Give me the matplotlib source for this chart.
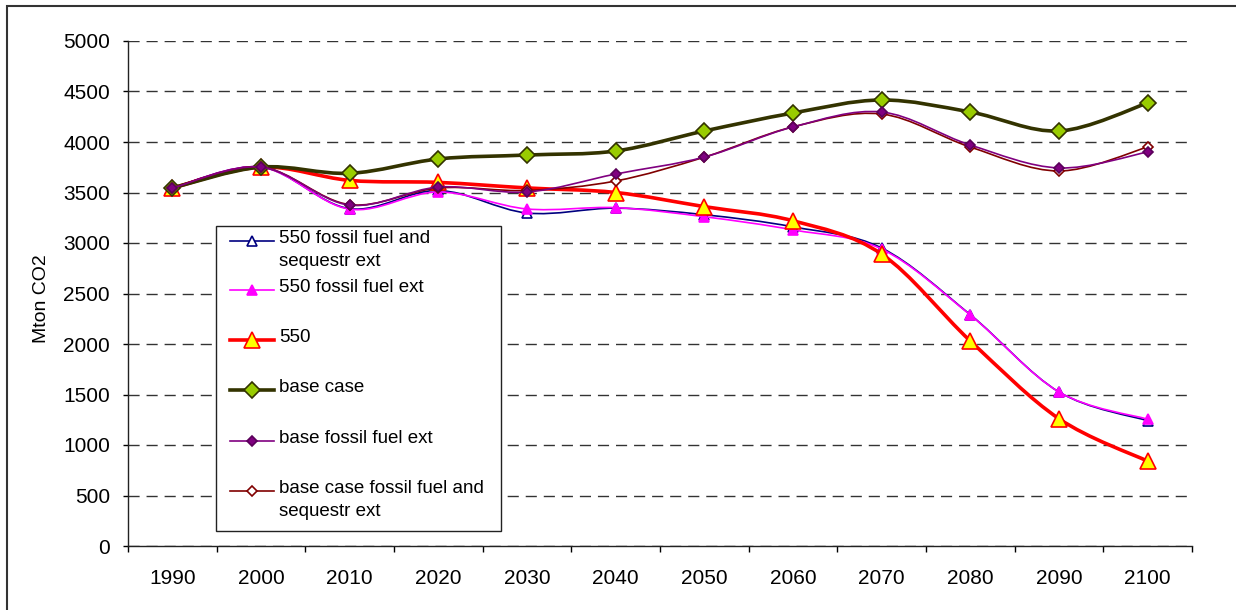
import matplotlib
matplotlib.use("Agg")
import matplotlib.pyplot as plt
import numpy as np
from matplotlib.path import Path
from matplotlib.patches import PathPatch, Rectangle
from matplotlib.lines import Line2D

plt.rcParams['font.family'] = ['Liberation Sans', 'DejaVu Sans']

# --- data (Mton CO2) ---
years = [1990, 2000, 2010, 2020, 2030, 2040, 2050, 2060, 2070, 2080, 2090, 2100]
ff_seq_550 = [3545, 3752, 3340, 3520, 3297, 3345, 3280, 3160, 2950, 2290, 1525, 1240]
ff_550 = [3545, 3752, 3335, 3505, 3337, 3350, 3260, 3130, 2940, 2287, 1525, 1255]
case_550 = [3545, 3752, 3620, 3600, 3545, 3500, 3360, 3220, 2890, 2030, 1260, 840]
base_case = [3545, 3752, 3690, 3832, 3871, 3911, 4109, 4287, 4416, 4297, 4109, 4386]
base_ff = [3545, 3752, 3375, 3554, 3505, 3683, 3851, 4149, 4297, 3970, 3743, 3901]
base_ff_seq = [3545, 3752, 3380, 3545, 3520, 3614, 3850, 4150, 4277, 3950, 3713, 3950]

labels = ["550 fossil fuel and\nsequestr ext", "550 fossil fuel ext", "550",
          "base case", "base fossil fuel ext", "base case fossil fuel and\nsequestr ext"]

W, H = 1236, 610
fig = plt.figure(figsize=(W / 100, H / 100), dpi=100)
ax = fig.add_axes([128 / W, 1 - 546 / H, (1192 - 128) / W, (546 - 41) / H])


def smooth_path(xs, ys):
    # excel-like smoothed line (bezier through the points)
    pts = list(zip(xs, ys))
    n = len(pts)
    verts = [pts[0]]
    codes = [Path.MOVETO]
    for i in range(n - 1):
        p0 = pts[max(i - 1, 0)]
        p1 = pts[i]
        p2 = pts[i + 1]
        p3 = pts[min(i + 2, n - 1)]
        c1 = (p1[0] + (p2[0] - p0[0]) / 6, p1[1] + (p2[1] - p0[1]) / 6)
        c2 = (p2[0] - (p3[0] - p1[0]) / 6, p2[1] - (p3[1] - p1[1]) / 6)
        verts += [c1, c2, p2]
        codes += [Path.CURVE4] * 3
    return Path(verts, codes)


# label, values, line color, lw, marker, ms, face, edge, zorder
styles = [
    (labels[0], ff_seq_550, '#000080', 1.2, '^', 6.5, 'white', '#000080', 3),
    (labels[1], ff_550, '#FF00FF', 1.2, '^', 6.5, '#FF00FF', '#FF00FF', 4),
    (labels[2], case_550, '#FF0000', 2.6, '^', 11, '#FFFF00', '#FF0000', 5),
    (labels[3], base_case, '#333300', 2.6, 'D', 8, '#99CC00', '#333300', 6),
    (labels[5], base_ff_seq, '#800000', 1.2, 'D', 5.5, 'white', '#800000', 7),
    (labels[4], base_ff, '#800080', 1.2, 'D', 5.5, '#800080', '#5a005a', 8),
]

x = np.arange(len(years))
for lab, vals, col, lw, mk, ms, mfc, mec, z in styles:
    ax.add_patch(PathPatch(smooth_path(x, vals), fill=False, edgecolor=col, lw=lw,
                           zorder=z, capstyle='round', joinstyle='round'))
    ax.plot(x, vals, ls='none', marker=mk, ms=ms, mfc=mfc, mec=mec, mew=1.2, zorder=z + 0.5)

ax.set_xlim(-0.5, 11.5)
ax.set_ylim(0, 5000)
ax.set_yticks(range(0, 5001, 500))
ax.set_xticks(np.arange(-0.5, 12, 1))
ax.set_xticklabels([])
ax.set_xticks(x, minor=True)
ax.set_xticklabels([str(y) for y in years], minor=True)
ax.tick_params(axis='x', which='major', length=4.3, width=1, direction='out')
ax.tick_params(axis='x', which='minor', length=0, pad=16.5, labelsize=15)
ax.tick_params(axis='y', length=3.6, width=1, pad=9.4, labelsize=15)

ax.yaxis.grid(True, ls=(0, (8, 5)), color='#333333', lw=1)
ax.set_axisbelow(True)
for s in ['top', 'right']:
    ax.spines[s].set_visible(False)
for s in ['left', 'bottom']:
    ax.spines[s].set_color('#222222')
    ax.spines[s].set_linewidth(1)

ax.set_ylabel('Mton CO2', fontsize=14)
ax.yaxis.set_label_coords((50 - 128) / 1064, 0.49)


def px(xp, yp):
    return xp / W, 1 - yp / H


# legend drawn by hand (excel layout)
lx0, ly0 = px(216, 531)
lx1, ly1 = px(501, 226)
fig.add_artist(Rectangle((lx0, ly0), lx1 - lx0, ly1 - ly0, transform=fig.transFigure,
                         facecolor='white', edgecolor='#222222', lw=1, zorder=20))
handle_y = [241, 290, 340, 390, 441, 491]
legend_order = [styles[0], styles[1], styles[2], styles[3], styles[5], styles[4]]
for hy, (lab, vals, col, lw, mk, ms, mfc, mec, z) in zip(handle_y, legend_order):
    xa, ya = px(230, hy)
    xb, _ = px(274, hy)
    xm, _ = px(252, hy)
    fig.add_artist(Line2D([xa, xb], [ya, ya], transform=fig.transFigure, color=col, lw=lw, zorder=21))
    fig.add_artist(Line2D([xm], [ya], transform=fig.transFigure, ls='none', marker=mk, ms=ms,
                          mfc=mfc, mec=mec, mew=1.2, zorder=22))
    tx, ty = px(279, hy - 11)
    fig.text(tx, ty, lab, fontsize=13.5, ha='left', va='top', linespacing=1.45, zorder=23)

# outer chart frame
fx0, fy0 = px(7, 620)
fx1, fy1 = px(1250, 6)
fig.add_artist(Rectangle((fx0, fy0), fx1 - fx0, fy1 - fy0, transform=fig.transFigure,
                         facecolor='none', edgecolor='#333333', lw=1.5, zorder=30))

fig.savefig('out.png', dpi=100)
